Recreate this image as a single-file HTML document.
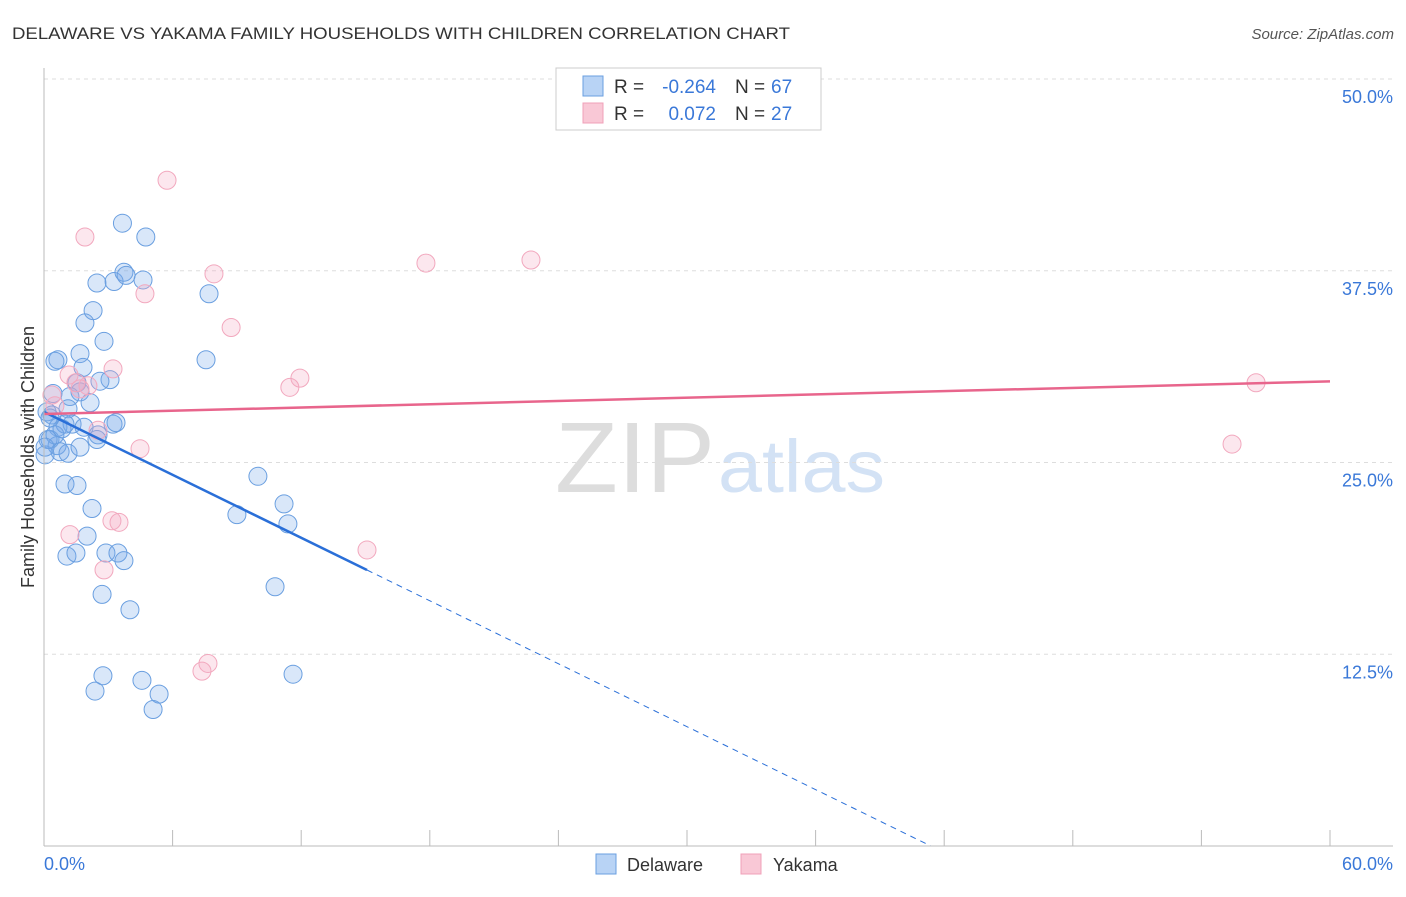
<!DOCTYPE html>
<html><head><meta charset="utf-8"><style>
body{margin:0;background:#fff;font-family:"Liberation Sans",sans-serif}
svg text{font-family:"Liberation Sans",sans-serif}
</style></head><body>
<svg id="chart" width="1406" height="892">
<text x="12" y="39" font-size="17" fill="#333" textLength="778" lengthAdjust="spacingAndGlyphs">DELAWARE VS YAKAMA FAMILY HOUSEHOLDS WITH CHILDREN CORRELATION CHART</text>
<text x="1394" y="39" font-size="15" fill="#555" font-style="italic" text-anchor="end">Source: ZipAtlas.com</text>
<text x="715" y="492" font-size="100" fill="#ddd" text-anchor="end" font-family="Liberation Serif" textLength="160" lengthAdjust="spacingAndGlyphs">ZIP</text>
<text x="718" y="492" font-size="74" fill="#d3e2f5" textLength="167" lengthAdjust="spacingAndGlyphs">atlas</text>
<g id="grid"></g><g id="pts"></g><g id="lines"></g>
<line x1="44" y1="68" x2="44" y2="846" stroke="#bbb"/>
<line x1="44" y1="846" x2="1393" y2="846" stroke="#bbb"/>
<text x="44" y="870" font-size="18" fill="#3a78d8">0.0%</text>
<text x="1393" y="870" font-size="18" fill="#3a78d8" text-anchor="end">60.0%</text>
<text transform="translate(34,457) rotate(-90)" font-size="18" fill="#333" text-anchor="middle">Family Households with Children</text>
<g>
<rect x="556" y="68" width="265" height="62" fill="#fff" stroke="#ccc"/>
<rect x="583" y="76" width="20" height="20" fill="#b8d3f5" stroke="#6a9fe0"/>
<rect x="583" y="103" width="20" height="20" fill="#f9c8d6" stroke="#f0a0b8"/>
<text x="614" y="93" font-size="19" fill="#333">R =</text>
<text x="716" y="93" font-size="19" fill="#3a78d8" text-anchor="end">-0.264</text>
<text x="735" y="93" font-size="19" fill="#333">N =</text>
<text x="771" y="93" font-size="19" fill="#3a78d8">67</text>
<text x="614" y="120" font-size="19" fill="#333">R =</text>
<text x="716" y="120" font-size="19" fill="#3a78d8" text-anchor="end">0.072</text>
<text x="735" y="120" font-size="19" fill="#333">N =</text>
<text x="771" y="120" font-size="19" fill="#3a78d8">27</text>
</g>
<g>
<rect x="596" y="854" width="20" height="20" fill="#b8d3f5" stroke="#6a9fe0"/>
<text x="627" y="871" font-size="18" fill="#333">Delaware</text>
<rect x="741" y="854" width="20" height="20" fill="#f9c8d6" stroke="#f0a0b8"/>
<text x="773" y="871" font-size="18" fill="#333">Yakama</text>
</g>
</svg>
<script>
const yTicks=[12.5,25,37.5,50];
const xTicks=[0,6,12,18,24,30,36,42,48,54,60];
const delawareX=[3.66,4.75,2.47,3.27,3.73,4.62,3.83,7.70,2.29,1.91,2.80,1.68,0.65,0.51,1.82,7.56,1.54,3.08,2.61,1.68,2.15,1.21,0.42,1.12,0.14,0.37,0.65,1.31,0.98,1.87,3.22,3.36,2.52,2.47,0.28,0.61,0.75,1.12,1.68,0.05,9.98,0.98,1.54,2.24,9.00,11.2,11.38,2.01,1.07,1.49,2.89,3.45,3.73,2.71,4.01,10.78,2.75,2.38,4.57,5.37,5.09,11.62,0.19,0.51,0.84,0.28,0.05];
const delawareY=[40.6,39.7,36.7,36.8,37.4,36.9,37.2,36.0,34.9,34.1,32.9,32.1,31.7,31.6,31.2,31.7,30.2,30.4,30.3,29.6,28.9,29.3,29.5,28.5,28.3,28.1,27.3,27.5,27.5,27.3,27.5,27.6,26.8,26.5,26.5,26.1,25.7,25.6,26.0,25.5,24.1,23.6,23.5,22.0,21.6,22.3,21.0,20.2,18.9,19.1,19.1,19.1,18.6,16.4,15.4,16.9,11.1,10.1,10.8,9.9,8.9,11.2,26.5,26.8,27.2,27.9,26.0];
const yakamaX=[5.74,1.91,4.71,7.93,8.73,17.82,22.72,3.22,1.17,1.49,2.05,1.68,11.94,11.47,4.48,2.52,0.51,1.21,3.17,3.50,2.80,15.07,7.65,7.37,56.55,55.43,0.37];
const yakamaY=[43.4,39.7,36.0,37.3,33.8,38.0,38.2,31.1,30.7,30.2,30.0,29.8,30.5,29.9,25.9,27.1,28.7,20.3,21.2,21.1,18.0,19.3,11.9,11.4,30.2,26.2,29.4];
const blueTrend={a:28.3,b:-0.684,solidEnd:15.07};
const pinkTrend={a:28.16,b:0.0355};
const NS='http://www.w3.org/2000/svg';
const X=v=>44+v/60*1286, Y=v=>846-v/50*767;
function mk(tag,attrs,parent){const e=document.createElementNS(NS,tag);for(const k in attrs)e.setAttribute(k,attrs[k]);document.getElementById(parent).appendChild(e);return e;}
yTicks.forEach(t=>{
 const l=mk('line',{x1:44,x2:1393,y1:Y(t),y2:Y(t),stroke:'#ddd','stroke-dasharray':'4,4'},'grid');
 
 
 const tx=mk('text',{x:1393,y:Y(t)+24,'font-size':18,fill:'#3a78d8','text-anchor':'end'},'grid');
 tx.textContent=t.toFixed(1)+'%';
 
 
});
xTicks.forEach(t=>{
 const l=mk('line',{x1:X(t),x2:X(t),y1:830,y2:846,stroke:'#bbb'},'grid');
 
 
});
delawareX.forEach((v,i)=>{
 const c=mk('circle',{cx:X(v),cy:Y(delawareY[i]),r:9,fill:'rgba(120,170,235,0.28)',stroke:'#6a9fe0','stroke-width':1},'pts');
 
 
});
yakamaX.forEach((v,i)=>{
 const c=mk('circle',{cx:X(v),cy:Y(yakamaY[i]),r:9,fill:'rgba(245,170,195,0.28)',stroke:'#f2a8be','stroke-width':1},'pts');
 
 
});
const bs=blueTrend.solidEnd, bz=-blueTrend.a/blueTrend.b;
let l1=mk('line',{x1:X(0),y1:Y(blueTrend.a),x2:X(bs),y2:Y(blueTrend.a+blueTrend.b*bs),stroke:'#2a6fd8','stroke-width':2.5},'lines');


let l2=mk('line',{x1:X(bs),y1:Y(blueTrend.a+blueTrend.b*bs),x2:X(bz),y2:Y(0),stroke:'#2a6fd8','stroke-width':1,'stroke-dasharray':'6,5'},'lines');


let l3=mk('line',{x1:X(0),y1:Y(pinkTrend.a),x2:X(60),y2:Y(pinkTrend.a+pinkTrend.b*60),stroke:'#e8658c','stroke-width':2.5},'lines');


</script>
</body></html>
